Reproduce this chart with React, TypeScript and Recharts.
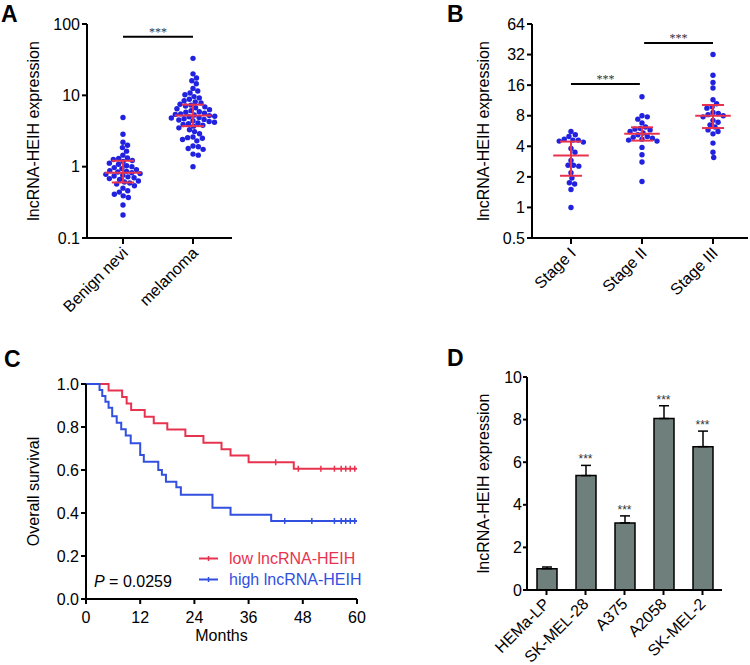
import React from "react"
import {
  ScatterChart,
  Scatter,
  ComposedChart,
  Line,
  Bar,
  ErrorBar,
  LabelList,
  Legend,
  XAxis,
  YAxis,
  ReferenceLine,
  ReferenceDot,
} from "recharts"

const FONT = "Arial, 'Liberation Sans', Helvetica, sans-serif"
const RED = "#e8334f"
const DOT_BLUE = "#2121e0"
const KM_BLUE = "#3150e0"
const BAR_GRAY = "#6f7f7c"

// A: benign nevi vs melanoma
const groupsA = ["Benign nevi", "melanoma"]
const benignNevi = [
  4.9, 2.85, 2.2, 2.0, 1.85, 1.65, 1.45, 1.32, 1.3, 1.26, 1.22, 1.18, 1.12, 1.08, 1.03, 1.0, 0.97, 0.94,
  0.91, 0.88, 0.86, 0.84, 0.82, 0.8, 0.78, 0.76, 0.74, 0.72, 0.7, 0.68, 0.66, 0.63, 0.61, 0.59, 0.57,
  0.54, 0.5, 0.46, 0.44, 0.41, 0.39, 0.37, 0.29, 0.21,
]
const melanoma = [
  33, 20, 17.5, 16, 14.5, 12.5, 11.5, 10.8, 10.2, 9.6, 9.2, 8.8, 8.4, 8.1, 7.8, 7.5, 7.3, 7.1, 6.9, 6.7,
  6.5, 6.3, 6.1, 5.9, 5.8, 5.6, 5.5, 5.4, 5.3, 5.2, 5.1, 5.0, 4.9, 4.8, 4.7, 4.6, 4.5, 4.4, 4.3, 4.2,
  4.1, 4.0, 3.9, 3.8, 3.7, 3.5, 3.3, 3.1, 2.9, 2.6, 2.55, 2.5, 2.4, 2.3, 1.95, 1.9, 1.8, 1.75, 1.5, 1.45, 1.0,
]
const medianA = [0.82, 5.2]
const q1A = [0.6, 3.7]
const q3A = [1.21, 7.4]
const sigA = [{ from: 0, to: 1, y: 66 }]

// B: clinical stage
const stagesB = ["Stage I", "Stage II", "Stage III"]
const stageI = [5.6, 5.2, 5.0, 4.7, 4.6, 4.6, 4.5, 4.4, 3.8, 3.5, 2.9, 2.6, 2.6, 2.55, 2.2, 1.95, 1.75, 1.7, 1.5, 1.0]
const stageII = [12.3, 8.0, 7.8, 7.4, 6.8, 6.2, 6.0, 5.9, 5.8, 5.6, 5.4, 5.2, 5.0, 4.9, 4.8, 4.7, 4.6, 4.5, 3.9, 3.3, 2.8, 1.8]
const stageIII = [32, 20, 17, 15, 11.5, 10.5, 9.8, 9.5, 8.6, 8.4, 8.2, 8.0, 7.8, 7.2, 6.9, 6.5, 6.2, 5.8, 5.6, 5.3, 4.3, 3.5, 3.1]
const medianB = [3.25, 5.3, 8.0]
const q1B = [2.05, 4.55, 6.05]
const q3B = [4.45, 6.15, 10.2]
const sigB = [
  { from: 0, to: 0.97, y: 16.4 },
  { from: 1.03, to: 2, y: 41.6 },
]

// C: Kaplan-Meier
const kmNames = ["low lncRNA-HEIH", "high lncRNA-HEIH"]
const lowTimes = [5, 8, 9, 10, 13, 15, 18, 22, 26, 30, 32, 36, 46]
const lowSurv = [0.97, 0.939, 0.909, 0.879, 0.848, 0.818, 0.788, 0.758, 0.727, 0.697, 0.667, 0.636, 0.606]
const lowCensor = [42, 47, 52, 55, 56.5, 57.5, 58.5, 59.5]
const highTimes = [3, 3.6, 4.3, 5, 5.8, 6.8, 7.8, 8.8, 9.9, 12, 12.8, 16, 16.8, 17.7, 20, 21, 28, 32, 41]
const highSurv = [
  0.972, 0.944, 0.917, 0.889, 0.85, 0.82, 0.79, 0.76, 0.725, 0.67, 0.638, 0.6, 0.578, 0.545, 0.52, 0.485,
  0.425, 0.392, 0.363,
]
const highCensor = [44, 50, 55, 56.5, 57.5, 58.5, 59.5]
const pValue = "0.0259"

// D: cell lines
const cellLines = ["HEMa-LP", "SK-MEL-28", "A375", "A2058", "SK-MEL-2"]
const cellExpr = [1.0, 5.37, 3.15, 8.05, 6.73]
const cellSem = [0.08, 0.48, 0.33, 0.6, 0.73]
const cellSig = ["", "***", "***", "***", "***"]

const axisStyle = { stroke: "#000", strokeWidth: 2 }
const tickStyle = { fill: "#000", fontSize: 16, fontFamily: FONT }

// simple beeswarm in pixel space
function swarm(values: number[], center: number, yPx: (v: number) => number, xPxPerUnit: number, d: number) {
  const order = values.map((_, i) => i).sort((a, b) => yPx(values[a]) - yPx(values[b]))
  const placed: { x: number; y: number }[] = []
  const out = values.map((v) => ({ x: center, y: v }))
  for (const i of order) {
    const y = yPx(values[i])
    const cands = [0]
    for (const p of placed) {
      const dy = Math.abs(p.y - y)
      if (dy < d) {
        const dx = Math.sqrt(d * d - dy * dy)
        cands.push(p.x + dx + 0.01, p.x - dx - 0.01)
      }
    }
    cands.sort((a, b) => Math.abs(a) - Math.abs(b))
    const x = cands.find((c) => placed.every((p) => (p.x - c) ** 2 + (p.y - y) ** 2 >= d * d - 0.01)) ?? 0
    placed.push({ x, y })
    out[i] = { x: center + x / xPxPerUnit, y: values[i] }
  }
  return out
}

// median + interquartile range, as little 2-point line segments
function iqrSegments(medians: number[], q1s: number[], q3s: number[], half: number, cap: number) {
  return medians.flatMap((m, i) => [
    { key: `m${i}`, seg: [{ x: i - half, y: m }, { x: i + half, y: m }] },
    { key: `v${i}`, seg: [{ x: i, y: q1s[i] }, { x: i, y: q3s[i] }] },
    { key: `l${i}`, seg: [{ x: i - cap, y: q1s[i] }, { x: i + cap, y: q1s[i] }] },
    { key: `h${i}`, seg: [{ x: i - cap, y: q3s[i] }, { x: i + cap, y: q3s[i] }] },
  ])
}

const RotTick = (props: any) => {
  const { x, y, payload, names, dx = 6, dy = 8 } = props
  const label = names ? names[Math.round(payload.value)] : payload.value
  const ax = x + dx
  const ay = y + dy
  return (
    <text x={ax} y={ay} transform={`rotate(-45 ${ax} ${ay})`} textAnchor="end" fontSize={16} fontFamily={FONT} fill="#000">
      {label}
    </text>
  )
}

const yTitle = (x: number, cy: number, text: string) => ({
  content: () => (
    <text
      x={x}
      y={cy}
      transform={`rotate(-90 ${x} ${cy})`}
      textAnchor="middle"
      dominantBaseline="central"
      fontSize={16}
      fontFamily={FONT}
      fill="#000"
    >
      {text}
    </text>
  ),
})

const BlueDot = (p: any) => <circle cx={p.cx} cy={p.cy} r={2.7} fill={DOT_BLUE} />
const NoDot = () => <g />

const PanelA = () => {
  const pts = [benignNevi, melanoma].map((vals, i) => swarm(vals, i, (v) => -Math.log10(v) * 71.4, 70, 5.4))
  return (
    <ScatterChart width={375} height={330} margin={{ top: 24, right: 143, bottom: 32, left: 0 }}>
      <XAxis
        type="number"
        dataKey="x"
        domain={[-0.514, 1.557]}
        ticks={[0, 1]}
        interval={0}
        allowDataOverflow
        height={60}
        tickSize={6}
        axisLine={axisStyle}
        tickLine={axisStyle}
        tick={<RotTick names={groupsA} dx={6} dy={8} />}
      />
      <YAxis
        type="number"
        dataKey="y"
        scale="log"
        domain={[0.1, 100]}
        ticks={[0.1, 1, 10, 100]}
        allowDataOverflow
        width={87}
        tickSize={5}
        tickMargin={2}
        axisLine={axisStyle}
        tickLine={axisStyle}
        tick={tickStyle}
        label={yTitle(33, 131, "lncRNA-HEIH expression")}
      />
      {sigA.map((s, i) => (
        <ReferenceLine key={`s${i}`} segment={[{ x: s.from, y: s.y }, { x: s.to, y: s.y }]} stroke="#000" strokeWidth={2} />
      ))}
      {sigA.map((s, i) => (
        <ReferenceDot
          key={`d${i}`}
          x={(s.from + s.to) / 2}
          y={s.y}
          r={0}
          fill="none"
          stroke="none"
          label={{ value: "***", position: "top", offset: 1, fontSize: 12, fill: "#333" }}
        />
      ))}
      {pts.map((d, i) => (
        <Scatter key={groupsA[i]} data={d} shape={BlueDot} isAnimationActive={false} />
      ))}
      {iqrSegments(medianA, q1A, q3A, 0.26, 0.16).map((s) => (
        <Scatter key={s.key} data={s.seg} shape={NoDot} line={{ stroke: RED, strokeWidth: 2 }} isAnimationActive={false} />
      ))}
    </ScatterChart>
  )
}

const PanelB = () => {
  const pts = [stageI, stageII, stageIII].map((vals, i) => swarm(vals, i, (v) => -Math.log2(v) * 30.57, 71, 5.4))
  return (
    <ScatterChart width={375} height={330} margin={{ top: 24, right: 2, bottom: 32, left: 0 }}>
      <XAxis
        type="number"
        dataKey="x"
        domain={[-0.549, 2.493]}
        ticks={[0, 1, 2]}
        interval={0}
        allowDataOverflow
        height={60}
        tickSize={6}
        axisLine={axisStyle}
        tickLine={axisStyle}
        tick={<RotTick names={stagesB} dx={6} dy={8} />}
      />
      <YAxis
        type="number"
        dataKey="y"
        scale="log"
        domain={[0.5, 64]}
        ticks={[0.5, 1, 2, 4, 8, 16, 32, 64]}
        allowDataOverflow
        width={157}
        tickSize={5}
        tickMargin={2}
        axisLine={axisStyle}
        tickLine={axisStyle}
        tick={tickStyle}
        label={yTitle(108, 131, "lncRNA-HEIH expression")}
      />
      {sigB.map((s, i) => (
        <ReferenceLine key={`s${i}`} segment={[{ x: s.from, y: s.y }, { x: s.to, y: s.y }]} stroke="#000" strokeWidth={2} />
      ))}
      {sigB.map((s, i) => (
        <ReferenceDot
          key={`d${i}`}
          x={(s.from + s.to) / 2}
          y={s.y}
          r={0}
          fill="none"
          stroke="none"
          label={{ value: "***", position: "top", offset: 1, fontSize: 12, fill: "#333" }}
        />
      ))}
      {pts.map((d, i) => (
        <Scatter key={stagesB[i]} data={d} shape={BlueDot} isAnimationActive={false} />
      ))}
      {iqrSegments(medianB, q1B, q3B, 0.25, 0.155).map((s) => (
        <Scatter key={s.key} data={s.seg} shape={NoDot} line={{ stroke: RED, strokeWidth: 2 }} isAnimationActive={false} />
      ))}
    </ScatterChart>
  )
}

function kmCurve(times: number[], surv: number[]) {
  return [{ t: 0, s: 1 }, ...times.map((t, i) => ({ t, s: surv[i] })), { t: 60, s: surv[surv.length - 1] }]
}

function survAt(times: number[], surv: number[], t: number) {
  let s = 1
  times.forEach((tt, i) => {
    if (tt <= t) s = surv[i]
  })
  return s
}

const censorShape = (color: string) => (p: any) =>
  <line x1={p.cx} x2={p.cx} y1={p.cy - 3} y2={p.cy + 3} stroke={color} strokeWidth={1.5} />

const kmColors = [RED, KM_BLUE]

const KmLegend = () => (
  <div style={{ fontFamily: FONT, fontSize: 16, lineHeight: "21px" }}>
    {kmNames.map((n, i) => (
      <div key={n} style={{ display: "flex", alignItems: "center", color: kmColors[i], whiteSpace: "nowrap" }}>
        <svg width={30} height={21}>
          <line x1={0} x2={19} y1={10.5} y2={10.5} stroke={kmColors[i]} strokeWidth={2} />
          <line x1={9.5} x2={9.5} y1={8} y2={13} stroke={kmColors[i]} strokeWidth={1.5} />
        </svg>
        <span>{n}</span>
      </div>
    ))}
  </div>
)

const PanelC = () => {
  const low = kmCurve(lowTimes, lowSurv)
  const high = kmCurve(highTimes, highSurv)
  const lowC = lowCensor.map((t) => ({ t, s: survAt(lowTimes, lowSurv, t) }))
  const highC = highCensor.map((t) => ({ t, s: survAt(highTimes, highSurv, t) }))
  return (
    <ComposedChart width={375} height={335} margin={{ top: 54, right: 18, bottom: 16, left: 0 }}>
      <XAxis
        type="number"
        dataKey="t"
        domain={[0, 60]}
        ticks={[0, 12, 24, 36, 48, 60]}
        interval={0}
        height={50}
        tickSize={5}
        tickMargin={8}
        axisLine={axisStyle}
        tickLine={axisStyle}
        tick={tickStyle}
        label={{
          content: () => (
            <text x={221.5} y={311} textAnchor="middle" fontSize={16} fontFamily={FONT} fill="#000">
              Months
            </text>
          ),
        }}
      />
      <YAxis
        type="number"
        dataKey="s"
        domain={[0, 1]}
        ticks={[0, 0.2, 0.4, 0.6, 0.8, 1]}
        tickFormatter={(v: number) => v.toFixed(1)}
        width={86}
        tickSize={5}
        tickMargin={2}
        axisLine={axisStyle}
        tickLine={axisStyle}
        tick={tickStyle}
        label={yTitle(33, 161.5, "Overall survival")}
      />
      <Line data={low} dataKey="s" type="stepAfter" stroke={RED} strokeWidth={2} dot={false} activeDot={false} isAnimationActive={false} />
      <Line data={high} dataKey="s" type="stepAfter" stroke={KM_BLUE} strokeWidth={2} dot={false} activeDot={false} isAnimationActive={false} />
      <Scatter data={lowC} dataKey="s" shape={censorShape(RED)} isAnimationActive={false} />
      <Scatter data={highC} dataKey="s" shape={censorShape(KM_BLUE)} isAnimationActive={false} />
      <Legend
        content={<KmLegend />}
        layout="horizontal"
        verticalAlign="middle"
        align="center"
        wrapperStyle={{ left: 199, top: 218, width: 176, height: 42 }}
      />
    </ComposedChart>
  )
}

const PanelD = () => {
  const data = cellLines.map((name, i) => ({
    name,
    value: cellExpr[i],
    err: [0, cellSem[i]],
    top: cellExpr[i] + cellSem[i],
    sig: cellSig[i],
  }))
  return (
    <ComposedChart width={375} height={335} data={data} margin={{ top: 47, right: 28, bottom: 15, left: 0 }}>
      <XAxis
        dataKey="name"
        interval={0}
        height={60}
        tickSize={5}
        axisLine={axisStyle}
        tickLine={axisStyle}
        tick={<RotTick dx={4} dy={8} />}
      />
      <YAxis
        type="number"
        domain={[0, 10]}
        ticks={[0, 1, 2, 4, 6, 8, 10]}
        width={152}
        tickSize={4}
        tickMargin={1}
        axisLine={axisStyle}
        tickLine={axisStyle}
        tick={tickStyle}
        label={yTitle(108, 153.5, "lncRNA-HEIH expression")}
      />
      <Bar dataKey="value" barSize={20} fill={BAR_GRAY} stroke="#000" strokeWidth={1.5} isAnimationActive={false}>
        <ErrorBar dataKey="err" direction="y" width={5} stroke="#000" strokeWidth={1.5} />
      </Bar>
      <Line dataKey="top" stroke="none" dot={false} activeDot={false} legendType="none" isAnimationActive={false}>
        <LabelList dataKey="sig" position="top" offset={2} fontSize={12} fill="#333" fontFamily={FONT} />
      </Line>
    </ComposedChart>
  )
}

export default function App() {
  return (
    <div style={{ position: "absolute", left: 0, top: 0, width: 750, height: 665, background: "#fff", overflow: "hidden" }}>
      <div style={{ position: "absolute", left: 0, top: 0 }}>
        <PanelA />
      </div>
      <div style={{ position: "absolute", left: 375, top: 0 }}>
        <PanelB />
      </div>
      <div style={{ position: "absolute", left: 0, top: 330 }}>
        <PanelC />
      </div>
      <div style={{ position: "absolute", left: 375, top: 330 }}>
        <PanelD />
      </div>
      <svg width={750} height={665} style={{ position: "absolute", left: 0, top: 0, pointerEvents: "none" }}>
        <g fontFamily={FONT} fontWeight="bold" fontSize={23} fill="#000">
          <text x={1} y={22}>A</text>
          <text x={447} y={22}>B</text>
          <text x={4} y={367}>C</text>
          <text x={447} y={366}>D</text>
        </g>
        <text x={94} y={587} fontFamily={FONT} fontSize={16} fill="#000">
          <tspan fontStyle="italic">P</tspan> = {pValue}
        </text>
      </svg>
    </div>
  )
}
